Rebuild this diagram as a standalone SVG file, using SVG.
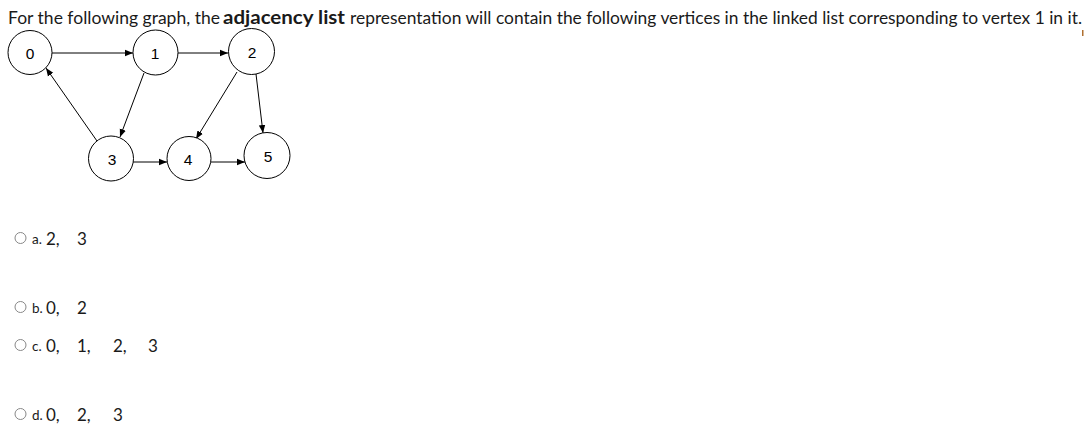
<svg xmlns="http://www.w3.org/2000/svg" width="1084" height="436" viewBox="0 0 1084 436">
<style>
.title{font-family:Lato,"Open Sans",sans-serif;font-size:17px;fill:#1a1a1a}
.b{font-weight:bold;font-size:19px}
.node circle{fill:#fff;stroke:#000;stroke-width:1}
.node text{font-family:"Liberation Sans",Arial,sans-serif;font-size:15.5px;fill:#000;text-anchor:middle}
.edges line{stroke:#000;stroke-width:1;marker-end:url(#ah)}
.radio{fill:#fff;stroke:#888;stroke-width:1}
.lbl{font-family:Lato,"Open Sans",sans-serif;font-size:13.5px;fill:#1a1a1a}
.val{font-family:Lato,"Open Sans",sans-serif;font-size:17px;fill:#1a1a1a}
</style>
<defs>
<marker id="ah" viewBox="0 0 10 10" refX="10" refY="5" markerWidth="8" markerHeight="8" markerUnits="userSpaceOnUse" orient="auto">
<path d="M0,1 L10,5 L0,9 z" fill="#000"/>
</marker>
</defs>
<rect width="1084" height="436" fill="#fff"/>
<text class="title" x="8" y="24"><tspan textLength="212" lengthAdjust="spacingAndGlyphs">For the following graph, the</tspan><tspan class="b" x="223" textLength="122" lengthAdjust="spacingAndGlyphs">adjacency list</tspan><tspan x="350" textLength="732" lengthAdjust="spacingAndGlyphs">representation will contain the following vertices in the linked list corresponding to vertex 1 in it.</tspan></text>
<rect x="1082" y="30" width="1.5" height="6" fill="#b07030"/>
<g class="edges" id="edges">
<line x1="52" y1="53" x2="133" y2="53"/>
<line x1="178" y1="53" x2="228" y2="53"/>
<line x1="144" y1="73" x2="120" y2="137"/>
<line x1="97" y1="141" x2="46" y2="68"/>
<line x1="237" y1="72" x2="196" y2="139"/>
<line x1="256" y1="74" x2="263" y2="133"/>
<line x1="133" y1="162" x2="167" y2="162"/>
<line x1="211" y1="162" x2="245" y2="162"/>
</g>
<g class="node" id="n0"><circle cx="30" cy="52.5" r="22"/><text x="30" y="58.5">0</text></g>
<g class="node" id="n1"><circle cx="155.5" cy="52.5" r="22.5"/><text x="155" y="58.5">1</text></g>
<g class="node" id="n2"><circle cx="251.5" cy="51.5" r="23"/><text x="252" y="57.5">2</text></g>
<g class="node" id="n3"><circle cx="111" cy="158.5" r="22.5"/><text x="112" y="164.5">3</text></g>
<g class="node" id="n4"><circle cx="189" cy="158.5" r="22"/><text x="188" y="164.5">4</text></g>
<g class="node" id="n5"><circle cx="267" cy="155.5" r="23"/><text x="268" y="161.5">5</text></g>
<g id="optA"><circle class="radio" cx="20.5" cy="238" r="5.5"/><text class="lbl" x="32" y="244">a.</text><text class="val" x="46" y="245">2,</text><text class="val" x="77" y="245">3</text></g>
<g id="optB"><circle class="radio" cx="20.5" cy="307" r="5.5"/><text class="lbl" x="32" y="313">b.</text><text class="val" x="46" y="314">0,</text><text class="val" x="77" y="314">2</text></g>
<g id="optC"><circle class="radio" cx="20.5" cy="345" r="5.5"/><text class="lbl" x="32" y="351">c.</text><text class="val" x="46" y="352">0,</text><text class="val" x="77" y="352">1,</text><text class="val" x="113" y="352">2,</text><text class="val" x="148" y="352">3</text></g>
<g id="optD"><circle class="radio" cx="20.5" cy="414" r="5.5"/><text class="lbl" x="32" y="420">d.</text><text class="val" x="46" y="421">0,</text><text class="val" x="77" y="421">2,</text><text class="val" x="113" y="421">3</text></g>
</svg>
